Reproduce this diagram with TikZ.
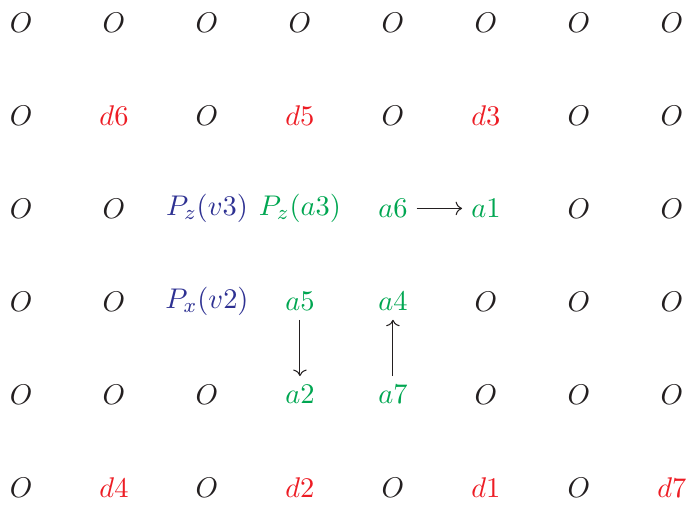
\documentclass[tikz,border=0pt]{standalone}
\usepackage{amsmath}
\usepackage{xcolor}
\usepackage{tikz}
\usetikzlibrary{arrows.meta}

\definecolor{dred}{RGB}{237,28,36}
\definecolor{agreen}{RGB}{0,166,81}
\definecolor{pblue}{RGB}{46,49,146}
\definecolor{ogray}{RGB}{35,31,32}

\begin{document}
\begin{tikzpicture}[
    every node/.style={font=\fontsize{11.2pt}{13pt}\selectfont},
    onode/.style={text=ogray},
    dnode/.style={text=dred},
    anode/.style={text=agreen},
    pnode/.style={text=pblue},
    arrow/.style={->, draw=ogray}
]
    \useasboundingbox (0,0) rectangle (9.342,-6.868);

    % grid of sites, row by row
    \foreach \rowlist [count=\j] in {
        {O/onode,O/onode,O/onode,O/onode,O/onode,O/onode,O/onode,O/onode},
        {O/onode,d6/dnode,O/onode,d5/dnode,O/onode,d3/dnode,O/onode,O/onode},
        {O/onode,O/onode,P_z(v3)/pnode,P_z(a3)/anode,a6/anode,a1/anode,O/onode,O/onode},
        {O/onode,O/onode,P_x(v2)/pnode,a5/anode,a4/anode,O/onode,O/onode,O/onode},
        {O/onode,O/onode,O/onode,a2/anode,a7/anode,O/onode,O/onode,O/onode},
        {O/onode,d4/dnode,O/onode,d2/dnode,O/onode,d1/dnode,O/onode,d7/dnode}} {
        \foreach \t/\s [count=\i] in \rowlist {
            \node [\s] (n-\i-\j) at ({0.284+(\i-1)*1.257},{-0.304-(\j-1)*1.257}) {$\t$};
        }
    }

    \draw [arrow] (n-5-3) -- (n-6-3);
    \draw [arrow] (n-4-4) -- (n-4-5);
    \draw [arrow] (n-5-5) -- (n-5-4);
\end{tikzpicture}
\end{document}
